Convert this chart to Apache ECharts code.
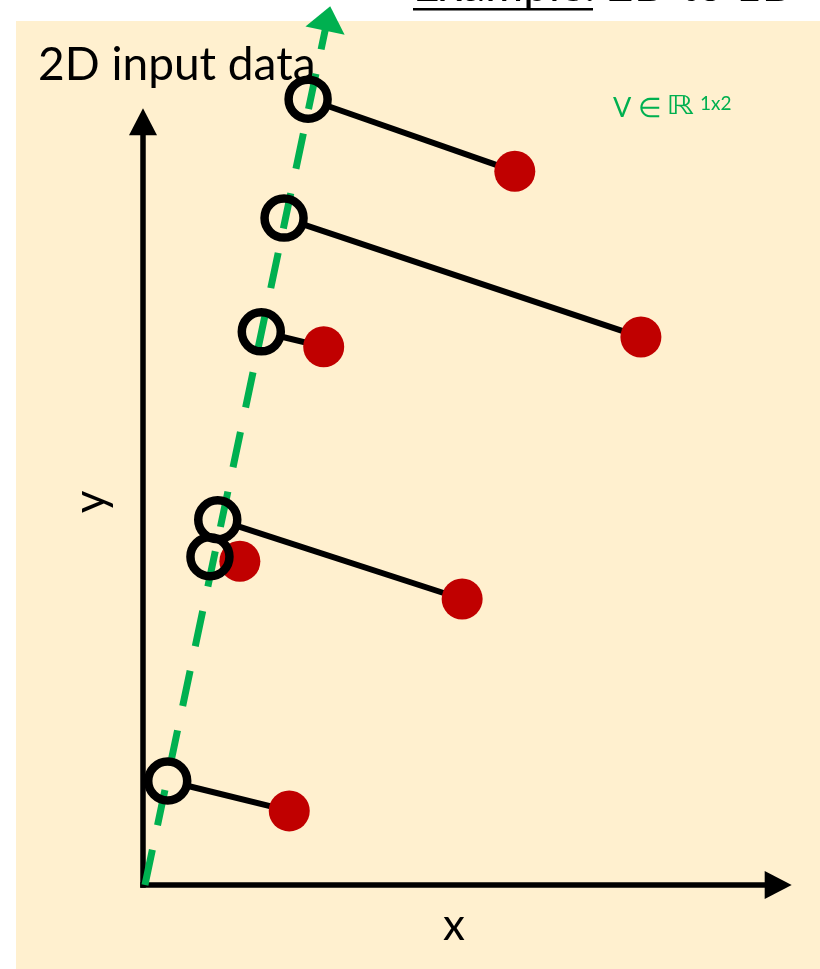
<!DOCTYPE html>
<html>
<head>
<meta charset="utf-8">
<script src="https://cdn.jsdelivr.net/npm/echarts@6/dist/echarts.min.js"></script>
<style>
  html, body { margin: 0; padding: 0; background: #ffffff; }
  #main { width: 820px; height: 969px; }
</style>
</head>
<body>
<div id="main"></div>
<script>
// 2D input points (filled red dots)
const inputX = [5.72, 7.66, 2.78, 4.91, 1.49, 2.25];
const inputY = [10.98, 8.43, 8.28, 4.40, 4.98, 1.14];
// Their positions along the 1D direction V (open circles)
const projX = [2.54, 2.17, 1.82, 1.15, 1.03, 0.38];
const projY = [12.09, 10.26, 8.51, 5.62, 5.05, 1.60];
// Axis arrows as [xStart, yStart, xEnd, yEnd]
const axisArrows = [[0, 0, 9.98, 0], [0, 0, 0, 11.95]];
// Direction V as [xStart, yStart, xEnd, yEnd]
const directionV = [[0.03, 0, 2.88, 13.52]];

const CREAM = '#fff0cf';
const RED = '#c00000';
const GREEN = '#00b050';
const FONT = 'Lato, "Open Sans", sans-serif';

const chart = echarts.init(document.getElementById('main'), null, { renderer: 'canvas' });

// Line with a triangular head at its end, laid out in pixel space from data coords
function arrowRenderer(headLen, headW, lineW, color, dash, cap) {
  return function (params, api) {
    const a = api.coord([api.value(0), api.value(1)]);
    const b = api.coord([api.value(2), api.value(3)]);
    const dx = b[0] - a[0], dy = b[1] - a[1];
    const L = Math.hypot(dx, dy);
    const ux = dx / L, uy = dy / L;
    const bx = b[0] - ux * headLen, by = b[1] - uy * headLen;
    const px = -uy * headW / 2, py = ux * headW / 2;
    return {
      type: 'group',
      children: [
        {
          type: 'line',
          shape: { x1: a[0], y1: a[1], x2: bx + ux * 2, y2: by + uy * 2 },
          style: { stroke: color, lineWidth: lineW, lineDash: dash || null, lineCap: cap || 'butt', fill: null }
        },
        {
          type: 'polygon',
          shape: { points: [[b[0], b[1]], [bx + px, by + py], [bx - px, by - py]] },
          style: { fill: color, stroke: null }
        }
      ]
    };
  };
}

// Segment from an open circle (starting at its rim) to its input point
function connectorRenderer(params, api) {
  const a = api.coord([api.value(0), api.value(1)]);
  const b = api.coord([api.value(2), api.value(3)]);
  const dx = b[0] - a[0], dy = b[1] - a[1];
  const L = Math.hypot(dx, dy);
  const r = 20;
  return {
    type: 'line',
    shape: { x1: a[0] + dx / L * r, y1: a[1] + dy / L * r, x2: b[0], y2: b[1] },
    style: { stroke: '#000', lineWidth: 6, fill: null }
  };
}

// Open ring marking a point on V
function ringRenderer(params, api) {
  const c = api.coord([api.value(0), api.value(1)]);
  return {
    type: 'circle',
    shape: { cx: c[0], cy: c[1], r: 19.5 },
    style: { fill: null, stroke: '#000', lineWidth: 8.5 }
  };
}

const connectors = projX.map((x, i) => [x, projY[i], inputX[i], inputY[i]]);
const redPoints = inputX.map((x, i) => [x, inputY[i]]);
const circlePoints = projX.map((x, i) => [x, projY[i]]);

const option = {
  animation: false,
  backgroundColor: '#ffffff',
  grid: { left: 143, right: 27, top: 1, bottom: 84, containLabel: false },
  xAxis: { type: 'value', min: 0, max: 10, show: false },
  yAxis: { type: 'value', min: 0, max: 13.6, show: false },
  graphic: [
    { type: 'rect', z: -10, silent: true, shape: { x: 16, y: 21, width: 804, height: 948 }, style: { fill: CREAM } },
    {
      type: 'text', silent: true, x: 413, y: -14,
      style: { text: 'Example: 2D to 1D', font: '46px ' + FONT, fill: '#000',
        align: 'left', verticalAlign: 'middle', textAlign: 'left', textVerticalAlign: 'middle' }
    },
    { type: 'rect', silent: true, shape: { x: 413, y: 8, width: 180, height: 2.5 }, style: { fill: '#000' } },
    {
      type: 'text', silent: true, x: 38, y: 65,
      style: { text: '2D input data', font: '46px ' + FONT, fill: '#000',
        align: 'left', verticalAlign: 'middle', textAlign: 'left', textVerticalAlign: 'middle' }
    },
    {
      type: 'text', silent: true, x: 454, y: 926,
      style: { text: 'x', font: '44px ' + FONT, fill: '#000',
        align: 'center', verticalAlign: 'middle', textAlign: 'center', textVerticalAlign: 'middle' }
    },
    {
      type: 'text', silent: true, x: 91, y: 502, rotation: Math.PI / 2,
      style: { text: 'y', font: '44px ' + FONT, fill: '#000',
        align: 'center', verticalAlign: 'middle', textAlign: 'center', textVerticalAlign: 'middle' }
    },
    {
      type: 'text', silent: true, x: 613, y: 108,
      style: { text: 'V ∈', font: '27px ' + FONT, fill: GREEN,
        align: 'left', verticalAlign: 'middle', textAlign: 'left', textVerticalAlign: 'middle' }
    },
    {
      type: 'text', silent: true, x: 666, y: 107, scaleX: 1.35,
      style: { text: 'ℝ', font: '26px "DejaVu Sans", sans-serif', fill: GREEN,
        align: 'left', verticalAlign: 'middle', textAlign: 'left', textVerticalAlign: 'middle' }
    },
    {
      type: 'text', silent: true, x: 700, y: 104,
      style: { text: '1x2', font: '19px ' + FONT, fill: GREEN,
        align: 'left', verticalAlign: 'middle', textAlign: 'left', textVerticalAlign: 'middle' }
    }
  ],
  series: [
    {
      type: 'custom', z: 2, silent: true,
      data: axisArrows,
      encode: { x: [0, 2], y: [1, 3] },
      renderItem: arrowRenderer(27, 28, 5.5, '#000', null, 'square')
    },
    {
      type: 'custom', z: 3, silent: true,
      data: directionV,
      encode: { x: [0, 2], y: [1, 3] },
      renderItem: arrowRenderer(25, 40, 7, GREEN, [36, 25], 'butt')
    },
    {
      type: 'custom', z: 4, silent: true,
      data: connectors,
      encode: { x: [0, 2], y: [1, 3] },
      renderItem: connectorRenderer
    },
    {
      type: 'scatter', z: 5, silent: true,
      data: redPoints,
      symbol: 'circle', symbolSize: 41,
      itemStyle: { color: RED, opacity: 1 }
    },
    {
      type: 'custom', z: 6, silent: true,
      data: circlePoints,
      encode: { x: 0, y: 1 },
      renderItem: ringRenderer
    }
  ]
};

chart.setOption(option);
</script>
</body>
</html>
